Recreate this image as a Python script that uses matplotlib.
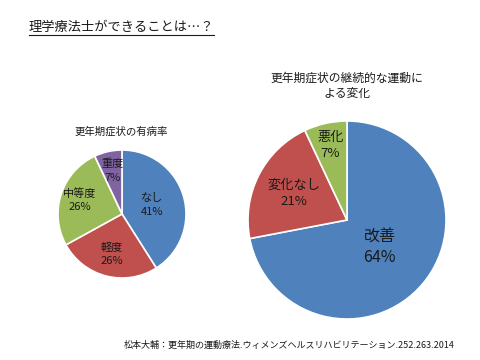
import numpy as np
import matplotlib
matplotlib.use("Agg")
import matplotlib.pyplot as plt
from matplotlib.lines import Line2D

plt.rcParams['font.family'] = ['Noto Sans CJK JP', 'DejaVu Sans']

# ---- datos ----
titulo = "理学療法士ができることは…？"
fonte = "松本大輔：更年期の運動療法.ウィメンズヘルスリハビリテーション.252.263.2014"

pie1_titulo = "更年期症状の有病率"
pie1_nomes = ["なし", "軽度", "中等度", "重度"]
pie1_valores = [41, 26, 26, 7]
pie1_textos = ["41%", "26%", "26%", "7%"]

pie2_titulo = "更年期症状の継続的な運動に\nよる変化"
pie2_nomes = ["改善", "変化なし", "悪化"]
pie2_valores = [72, 21, 7]          # tamanho das fatias como desenhado
pie2_textos = ["64%", "21%", "7%"]  # rótulos como impressos

cores1 = ["#4F81BD", "#C0504D", "#9BBB59", "#8064A2"]
cores2 = ["#4F81BD", "#C0504D", "#9BBB59"]

W, H = 480, 360
fig = plt.figure(figsize=(W / 100, H / 100), dpi=100)


def eixo_px(cx, cy, r):
    return fig.add_axes([(cx - r) / W, 1 - (cy + r) / H, 2 * r / W, 2 * r / H])


def desenha_pizza(ax, valores, cores, nomes, textos, dists, tamanhos, esp):
    wedges, _ = ax.pie(valores, colors=cores, startangle=90, counterclock=False,
                       wedgeprops=dict(edgecolor="white", linewidth=1.2))
    for w, nome, txt, d, fs in zip(wedges, nomes, textos, dists, tamanhos):
        ang = np.deg2rad((w.theta1 + w.theta2) / 2)
        ax.text(d * np.cos(ang), d * np.sin(ang), nome + "\n" + txt,
                ha="center", va="center", fontsize=fs, color="#1a1a1a",
                linespacing=esp)
    ax.set_xlim(-1, 1)
    ax.set_ylim(-1, 1)
    ax.set_aspect("equal")
    ax.axis("off")


# pizza da esquerda
ax1 = eixo_px(122, 214, 64)
desenha_pizza(ax1, pie1_valores, cores1, pie1_nomes, pie1_textos,
              [0.49, 0.65, 0.70, 0.69], [8, 8, 8, 8], 1.45)

# pizza da direita
ax2 = eixo_px(347, 220, 99)
desenha_pizza(ax2, pie2_valores, cores2, pie2_nomes, pie2_textos,
              [0.43, 0.60, 0.77], [11.5, 9.5, 9.5], 1.3)

# textos
fig.text(29 / W, 1 - 28 / H, titulo, fontsize=9.5, ha="left", va="center", color="#1a1a1a")
fig.add_artist(Line2D([29 / W, 214 / W], [1 - 35 / H, 1 - 35 / H], color="#1a1a1a", lw=0.8))
fig.text(121 / W, 1 - 131 / H, pie1_titulo, fontsize=7.5, ha="center", va="center", color="#1a1a1a")
fig.text(347 / W, 1 - 86 / H, pie2_titulo, fontsize=8.5, ha="center", va="center",
         color="#1a1a1a", linespacing=1.2)
fig.text(455 / W, 1 - 345 / H, fonte, fontsize=6.5, ha="right", va="center", color="#1a1a1a")

fig.savefig("out.png", dpi=100)
